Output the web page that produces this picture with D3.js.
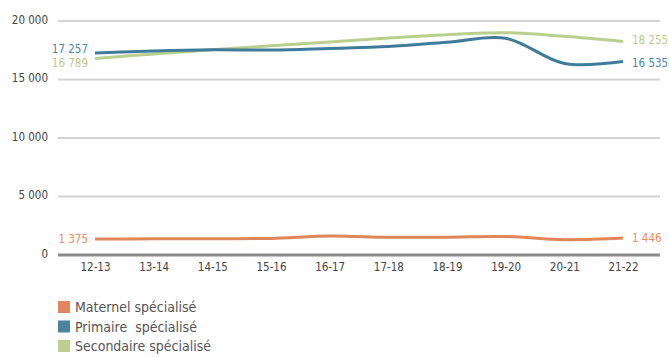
<!DOCTYPE html>
<html>
<head>
<meta charset="utf-8">
<script src="https://cdn.jsdelivr.net/npm/d3@7"></script>
<style>
  html, body { margin: 0; padding: 0; background: #fff; }
  svg { display: block; }
  text { font-family: "DejaVu Sans Condensed", "DejaVu Sans", sans-serif; font-stretch: condensed; }
</style>
</head>
<body>
<svg id="chart" width="669" height="357"></svg>
<script>
// School years
const categories = ["12-13", "13-14", "14-15", "15-16", "16-17", "17-18", "18-19", "19-20", "20-21", "21-22"];

// Enrolment per level of special education
const maternel   = [1375, 1380, 1395, 1420, 1620, 1520, 1525, 1580, 1310, 1446];
const primaire   = [17257, 17440, 17540, 17520, 17660, 17820, 18180, 18530, 16370, 16535];
const secondaire = [16789, 17180, 17550, 17880, 18200, 18550, 18830, 18990, 18690, 18255];

const yTicks = [0, 5000, 10000, 15000, 20000];

const seriesNames  = ["Maternel spécialisé", "Primaire  spécialisé", "Secondaire spécialisé"];
const seriesValues = [maternel, primaire, secondaire];
const lineColors   = ["#e08659", "#3f7c9c", "#b9cf8d"];
const labelColors  = ["#e98b63", "#4d87a7", "#b9cc8e"];
const swatchColors = ["#e0875f", "#4a82a0", "#bccf8f"];
// vertical nudges of the start / end value labels so they do not collide
const startNudge = [0, -4, 4];
const endNudge   = [0, 1, -1];

const svg = d3.select("#chart");

const locale = d3.formatLocale({ decimal: ",", thousands: " ", grouping: [3], currency: ["", " €"] });
const fmt = locale.format(",d");

const x = d3.scalePoint().domain(categories).range([95, 623]);
const y = d3.scaleLinear().domain([0, 20000]).range([255, 21]);

const gridLeft = 58, gridRight = 660;

// horizontal gridlines
svg.append("g").selectAll("line")
  .data(yTicks.filter(t => t !== 0))
  .join("line")
  .attr("x1", gridLeft).attr("x2", gridRight)
  .attr("y1", d => y(d)).attr("y2", d => y(d))
  .attr("stroke", "#d2d2d2").attr("stroke-width", 2.2);

// y axis labels
const yAxis = d3.axisLeft(y).tickValues(yTicks).tickFormat(fmt).tickSize(0).tickPadding(0);
const gy = svg.append("g").attr("transform", "translate(48,0)").call(yAxis);
gy.select(".domain").remove();
gy.selectAll("text")
  .attr("font-size", 11.5)
  .attr("fill", "#444")
  .attr("dy", "0.18em")
  .style("font-family", "'DejaVu Sans Condensed', 'DejaVu Sans', sans-serif");

// series lines
const line = d3.line()
  .x((d, i) => x(categories[i]))
  .y(d => y(d))
  .curve(d3.curveCatmullRom.alpha(0.5));

// baseline at zero
svg.append("line")
  .attr("x1", gridLeft).attr("x2", gridRight)
  .attr("y1", y(0)).attr("y2", y(0))
  .attr("stroke", "#8a8a8a").attr("stroke-width", 3);

const order = [2, 1, 0];
order.forEach(k => {
  svg.append("path")
    .datum(seriesValues[k])
    .attr("d", line)
    .attr("fill", "none")
    .attr("stroke", lineColors[k])
    .attr("stroke-width", 3)
    .attr("stroke-linejoin", "round");
});

// x axis labels
const xAxis = d3.axisBottom(x).tickSize(0).tickPadding(0);
const gx = svg.append("g").attr("transform", `translate(0,${y(0) + 12})`).call(xAxis);
gx.select(".domain").remove();
gx.selectAll("text")
  .attr("font-size", 11.5)
  .attr("fill", "#444")
  .attr("dy", "0.32em")
  .style("font-family", "'DejaVu Sans Condensed', 'DejaVu Sans', sans-serif");

// first and last value labels
seriesValues.forEach((vals, k) => {
  const first = vals[0], last = vals[vals.length - 1];
  svg.append("text")
    .attr("x", x(categories[0]) - 7)
    .attr("y", y(first) + startNudge[k])
    .attr("dy", "0.35em")
    .attr("text-anchor", "end")
    .attr("font-size", 11.5)
    .attr("fill", labelColors[k])
    .text(fmt(first));
  svg.append("text")
    .attr("x", x(categories[categories.length - 1]) + 9)
    .attr("y", y(last) + endNudge[k])
    .attr("dy", "0.35em")
    .attr("text-anchor", "start")
    .attr("font-size", 11.5)
    .attr("fill", labelColors[k])
    .text(fmt(last));
});

// legend
const legend = svg.append("g").attr("transform", "translate(58,301)");
seriesNames.forEach((name, k) => {
  const row = legend.append("g").attr("transform", `translate(0,${k * 19.5})`);
  row.append("rect").attr("width", 12).attr("height", 12).attr("fill", swatchColors[k]);
  row.append("text")
    .attr("x", 17).attr("y", 6)
    .attr("dy", "0.36em")
    .attr("font-size", 14)
    .attr("fill", "#555")
    .style("white-space", "pre")
    .text(name);
});
</script>
</body>
</html>
